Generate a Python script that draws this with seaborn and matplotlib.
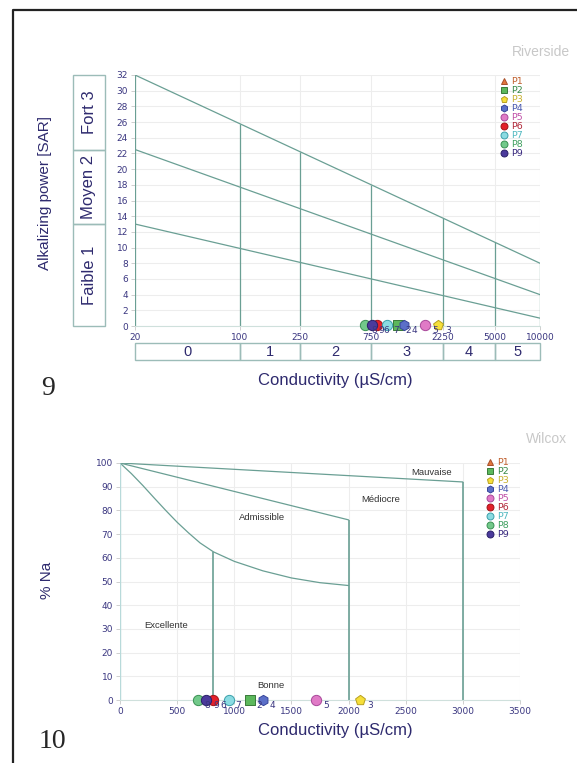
import numpy as np
import pandas as pd
import seaborn as sns
import matplotlib.pyplot as plt
from matplotlib.lines import Line2D
from matplotlib.patches import Rectangle
from matplotlib.ticker import NullLocator

# sample points (P1 is not visible on either diagram)
points = ["P1", "P2", "P3", "P4", "P5", "P6", "P7", "P8", "P9"]
conductivity = [np.nan, 1135, 2100, 1250, 1715, 815, 950, 680, 755]
sar = [np.nan, 0.1, 0.1, 0.1, 0.1, 0.1, 0.1, 0.1, 0.1]
na_pct = [np.nan, 0, 0, 0, 0, 0, 0, 0, 0]

# Riverside diagram
riv_x_ends = [20, 10000]
riv_high = [32, 8]
riv_mid = [22.5, 4]
riv_low = [13, 1]
riv_class_x = [20, 100, 250, 750, 2250, 5000, 10000]
riv_class_top = [32, 25.8, 22.2, 18.0, 13.8, 10.7, 8.0]
riv_xticks = [20, 100, 250, 750, 2250, 5000, 10000]
riv_yticks = list(range(0, 33, 2))
cond_classes = ["0", "1", "2", "3", "4", "5"]
sar_classes = ["Faible 1", "Moyen 2", "Fort 3"]
sar_bounds = [0, 13, 22.5, 32]

# Wilcox diagram
wil_top_x = [0, 3000]
wil_top_y = [100, 92]
wil_mid_x = [0, 2000]
wil_mid_y = [100, 76]
wil_low_x = [0, 100, 200, 300, 400, 500, 600, 700, 818, 1000, 1250, 1500, 1750, 2000]
wil_low_y = [100, 95.5, 90.5, 85.2, 80, 75, 70.5, 66.3, 62.5, 58.5, 54.5, 51.5, 49.5, 48.3]
wil_vert_x = [0, 818, 2000, 3000]
wil_vert_top = [100, 62.5, 76, 92]
wil_zones = ["Mauvaise", "Médiocre", "Admissible", "Excellente", "Bonne"]
wil_zone_x = [2730, 2283, 1242, 402, 1321]
wil_zone_y = [95.8, 84.8, 76.8, 31.6, 6.3]

# styles
shapes = ["^", "s", "p", "h", "o", "o", "o", "o", "o"]
fills = ["#e2763c", "#5cb85c", "#f6df3a", "#5b6fc8", "#e07ac6", "#e3202a", "#8adbe2", "#72c98a", "#4b3a9c"]
edges = ["#a8502a", "#3a7a3a", "#b8a020", "#36449a", "#a8489a", "#a01418", "#3aa0aa", "#3a9052", "#2a2068"]
text_cols = ["#c0602e", "#3a8a4a", "#c8b030", "#4a5ab0", "#c050a8", "#b02838", "#50b8c0", "#40a060", "#3a2a80"]
line_c = "#6a9f94"
navy = "#2e2a6e"
tick_c = "#3a3680"

sns.set_style("whitegrid", {"grid.color": "#ededed", "axes.edgecolor": "#cfe0dc"})
plt.rcParams["font.family"] = ["DejaVu Sans"]

df = pd.DataFrame({"point": points, "cond": conductivity, "sar": sar, "na": na_pct})

fig = plt.figure(figsize=(5.77, 7.63), dpi=100)


def fx(px):
    return px / 577


def fy(py):
    return 1 - py / 763


def draw_points(ax, ycol):
    for i, row in df.iterrows():
        if np.isnan(row["cond"]):
            continue
        sns.scatterplot(x=[row["cond"]], y=[row[ycol]], ax=ax, marker=shapes[i],
                        color=fills[i], edgecolor=edges[i], linewidth=0.7, s=55,
                        zorder=5, clip_on=False, legend=False)
        ax.annotate(row["point"][1:], (row["cond"], row[ycol]), xytext=(5, -4),
                    textcoords="offset points", fontsize=6.5, color=tick_c,
                    ha="left", va="center", zorder=6, annotation_clip=False)


def add_legend(ax, x, y):
    handles = [Line2D([], [], marker=shapes[i], linestyle="", markerfacecolor=fills[i],
                      markeredgecolor=edges[i], markersize=5, markeredgewidth=0.7)
               for i in range(len(points))]
    leg = ax.legend(handles, points, loc="upper left", bbox_to_anchor=(fx(x), fy(y)),
                    bbox_transform=fig.transFigure, frameon=False, fontsize=6.8,
                    labelspacing=0.0, handletextpad=0.3, handlelength=1.0,
                    borderpad=0, borderaxespad=0)
    for t, c in zip(leg.get_texts(), text_cols):
        t.set_color(c)


def style_ticks(ax):
    ax.tick_params(axis="both", labelsize=6.5, labelcolor=tick_c, length=3,
                   color="#c8c8c8", width=0.6, pad=2, bottom=True, left=True)
    for side in ["top", "right", "left"]:
        ax.spines[side].set_visible(False)
    ax.spines["bottom"].set_color("#cfe0dc")


# ---- Riverside ----
ax1 = fig.add_axes([fx(135), fy(326), fx(540) - fx(135), fy(75) - fy(326)])
ax1.set_xscale("log")
ax1.set_xlim(20, 10000)
ax1.set_ylim(0, 32)
for yy in [riv_high, riv_mid, riv_low]:
    sns.lineplot(x=riv_x_ends, y=yy, ax=ax1, color=line_c, linewidth=0.9)
ax1.vlines(riv_class_x, 0, riv_class_top, color=line_c, linewidth=0.9)
ax1.set_xticks(riv_xticks)
ax1.set_xticklabels([str(v) for v in riv_xticks])
ax1.xaxis.set_minor_locator(NullLocator())
ax1.set_yticks(riv_yticks)
style_ticks(ax1)
draw_points(ax1, "sar")
add_legend(ax1, 499, 77)

# SAR class boxes
axs = fig.add_axes([fx(73), fy(326), fx(105) - fx(73), fy(75) - fy(326)])
axs.set_xlim(0, 1)
axs.set_ylim(0, 32)
axs.axis("off")
for lab, lo, hi in zip(sar_classes, sar_bounds[:-1], sar_bounds[1:]):
    axs.add_patch(Rectangle((0, lo), 1, hi - lo, fill=False, edgecolor="#9cbcb8",
                            linewidth=1.0, clip_on=False))
    axs.text(0.5, (lo + hi) / 2, lab, rotation=90, ha="center", va="center",
             fontsize=12, color=navy, family=["Liberation Sans"])

# conductivity class boxes
axc = fig.add_axes([fx(135), fy(360), fx(540) - fx(135), fy(343) - fy(360)])
axc.set_xscale("log")
axc.set_xlim(20, 10000)
axc.set_ylim(0, 1)
axc.axis("off")
for lab, lo, hi in zip(cond_classes, riv_xticks[:-1], riv_xticks[1:]):
    axc.add_patch(Rectangle((lo, 0), hi - lo, 1, fill=False, edgecolor="#9cbcb8",
                            linewidth=1.0, clip_on=False))
    axc.text(np.sqrt(lo * hi), 0.5, lab, ha="center", va="center", fontsize=10.5,
             color=navy, family=["Liberation Sans"])

fig.text(fx(45), fy(193), "Alkalizing power [SAR]", rotation=90, ha="center", va="center",
         fontsize=11, color=navy, family=["Liberation Sans"])
fig.text(fx(335), fy(381), "Conductivity (µS/cm)", ha="center", va="center",
         fontsize=12, color=navy, family=["Liberation Sans"])
fig.text(fx(570), fy(52), "Riverside", ha="right", va="center", fontsize=10,
         color="#c8c8c8", family=["Liberation Sans"])

# ---- Wilcox ----
ax2 = fig.add_axes([fx(120), fy(700), fx(520) - fx(120), fy(463) - fy(700)])
ax2.set_xlim(0, 3500)
ax2.set_ylim(0, 100)
ax2.plot(wil_top_x, wil_top_y, color=line_c, linewidth=0.9)
ax2.plot(wil_mid_x, wil_mid_y, color=line_c, linewidth=0.9)
ax2.plot(wil_low_x, wil_low_y, color=line_c, linewidth=0.9)
ax2.vlines(wil_vert_x[1:], 0, wil_vert_top[1:], color=line_c, linewidth=1.2)
ax2.vlines(wil_vert_x[:1], 0, wil_vert_top[:1], color="#b8dada", linewidth=1.0)
ax2.set_xticks(range(0, 3501, 500))
ax2.set_yticks(range(0, 101, 10))
style_ticks(ax2)
for lab, x, y in zip(wil_zones, wil_zone_x, wil_zone_y):
    ax2.text(x, y, lab, ha="center", va="center", fontsize=6.8, color="#333333",
             family=["Liberation Sans"])
draw_points(ax2, "na")
add_legend(ax2, 485, 458)

fig.text(fx(47), fy(580), "% Na", rotation=90, ha="center", va="center",
         fontsize=11, color=navy, family=["Liberation Sans"])
fig.text(fx(335), fy(731), "Conductivity (µS/cm)", ha="center", va="center",
         fontsize=12, color=navy, family=["Liberation Sans"])
fig.text(fx(567), fy(439), "Wilcox", ha="right", va="center", fontsize=10,
         color="#c8c8c8", family=["Liberation Sans"])

# figure numbers and frame
fig.text(fx(48), fy(388), "9", ha="center", va="center", fontsize=20,
         family=["Liberation Serif"])
fig.text(fx(52), fy(742), "10", ha="center", va="center", fontsize=20,
         family=["Liberation Serif"])
fig.add_artist(Line2D([fx(13), fx(13), 1.0], [0.0, fy(10), fy(10)],
                      transform=fig.transFigure, color="#222222", linewidth=1.6))

fig.savefig("out.png", dpi=100)
